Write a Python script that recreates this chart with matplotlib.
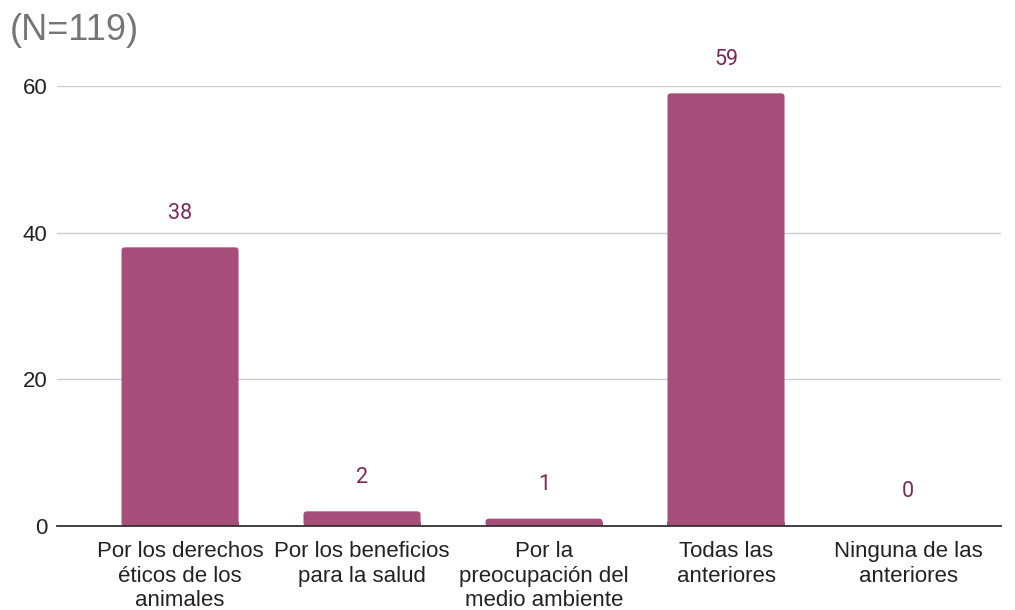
import matplotlib
matplotlib.use("Agg")
import matplotlib.pyplot as plt
from matplotlib.patches import FancyBboxPatch

categories = ["Por los derechos\néticos de los\nanimales",
              "Por los beneficios\npara la salud",
              "Por la\npreocupación del\nmedio ambiente",
              "Todas las\nanteriores",
              "Ninguna de las\nanteriores"]
values = [38, 2, 1, 59, 0]
yticks = [0, 20, 40, 60]
title = "(N=119)"

plt.rcParams['font.family'] = ['Liberation Sans', 'DejaVu Sans']

fig = plt.figure(figsize=(10.15, 6.1), dpi=100)
ax = fig.add_axes([57/1015, 1-526/610, 944/1015, 440/610])

bar_color = "#A64D79"
label_color = "#7B2A55"
x = list(range(len(categories)))
bars = ax.bar(x, values, width=0.643, color=bar_color, zorder=3)
# rounded top corners
for b in bars:
    h = b.get_height()
    b.set_visible(False)
    if h <= 0:
        continue
    p = FancyBboxPatch((b.get_x(), 0), b.get_width(), h,
                       boxstyle="round,pad=0,rounding_size=0.02",
                       mutation_aspect=20, facecolor=bar_color, edgecolor='none', zorder=3)
    ax.add_patch(p)
    ax.bar(b.get_x() + b.get_width()/2, min(h, 0.5), width=b.get_width(), color=bar_color, zorder=3)

for xi, v in zip(x, values):
    ax.annotate(str(v), (xi, v), xytext=(0, 24.5), textcoords="offset points",
                ha="center", va="center", fontsize=15.5, color=label_color,
                family=['Roboto', 'DejaVu Sans'], annotation_clip=False)

ax.set_xlim(-0.676, 4.511)
ax.set_ylim(0, 60)
ax.set_yticks(yticks)
ax.set_yticklabels([str(t) for t in yticks])
ax.set_xticks(x)
ax.set_xticklabels(categories, fontsize=16, color="#222222", linespacing=1.22)
ax.tick_params(axis='y', length=0, pad=7, labelsize=16, labelcolor="#222222")
ax.tick_params(axis='x', length=0, pad=11)
ax.grid(axis='y', color="#CCCCCC", linewidth=1, zorder=0)
for s in ["top", "right", "left"]:
    ax.spines[s].set_visible(False)
ax.spines["bottom"].set_color("#333333")
ax.spines["bottom"].set_linewidth(1.3)
ax.spines["bottom"].set_zorder(4)

fig.text(10/1015, 1-30/610, title, fontsize=26, color="#757575", ha="left", va="center")

fig.savefig("out.png", dpi=100)
